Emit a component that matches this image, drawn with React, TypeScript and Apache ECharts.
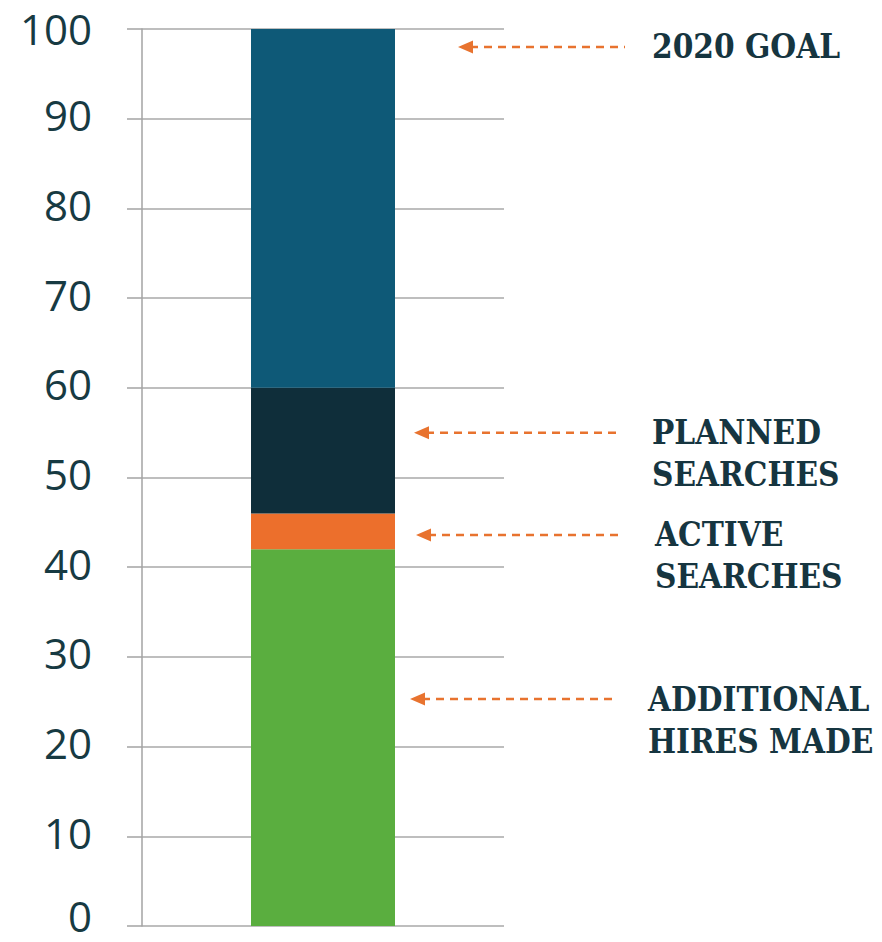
import React, { useEffect, useRef } from "react";
import * as echarts from "echarts";

const categories = ["Hires"];
const seriesNames = ["Additional hires made", "Active searches", "Planned searches", "2020 goal remainder"];
const seriesValues = [[42], [4], [14], [40]];
const seriesColors = ["#5aae3f", "#ec6f2c", "#0f2e3a", "#0e5977"];
const yTicks = [0, 100, 10];

const annotationLabels = ["2020 GOAL", "PLANNED\nSEARCHES", "ACTIVE\nSEARCHES", "ADDITIONAL\nHIRES MADE"];
const annotationValues = [98, 55, 43.6, 25.3];
const arrowTipX = [458, 414, 416, 410];
const arrowEndX = [625, 620, 620, 617];
const labelX = [652, 652, 655, 648];

export default function App() {
  const ref = useRef<HTMLDivElement>(null);
  useEffect(() => {
    document.body.style.margin = "0";
    const chart = echarts.init(ref.current!, null, { renderer: "svg" });
    const labelStyle = { fontSize: 42, fontFamily: "Open Sans", color: "#173a42" };
    chart.setOption({
      animation: false,
      backgroundColor: "#ffffff",
      grid: { left: 142, right: 378, top: 29, bottom: 16, containLabel: false, outerBoundsMode: "none" },
      xAxis: {
        type: "category",
        data: categories,
        axisLine: { show: false },
        axisTick: { show: false },
        axisLabel: { show: false },
      },
      yAxis: {
        type: "value",
        min: yTicks[0],
        max: yTicks[1],
        interval: yTicks[2],
        axisLine: { show: true, lineStyle: { color: "#a3a3a3", width: 1.5 } },
        axisTick: { show: true, inside: false, length: 15, lineStyle: { color: "#a3a3a3", width: 1.5 } },
        splitLine: { show: true, lineStyle: { color: "#a8a8a8", width: 1.5 } },
        axisLabel: {
          margin: 50,
          verticalAlign: "bottom",
          formatter: (v: number) =>
            v === yTicks[0] ? `{z|${v}}` : v === yTicks[1] ? `{t|${v}}` : `{n|${v}}`,
          rich: {
            n: { ...labelStyle, lineHeight: 8 },
            z: { ...labelStyle, lineHeight: 22 },
            t: { ...labelStyle, lineHeight: 1 },
          },
        },
      },
      series: seriesNames.map((name, i) => ({
        name,
        type: "bar",
        stack: "total",
        barWidth: 144,
        data: seriesValues[i],
        itemStyle: { color: seriesColors[i] },
      })),
    });

    const graphics: any[] = [];
    annotationLabels.forEach((label, i) => {
      const y = chart.convertToPixel({ yAxisIndex: 0 }, annotationValues[i]) as number;
      graphics.push({
        type: "line",
        shape: { x1: arrowTipX[i] + 12, y1: y, x2: arrowEndX[i], y2: y },
        style: { stroke: "#e8732f", lineWidth: 2.5, lineDash: [8, 6] },
      });
      graphics.push({
        type: "polygon",
        shape: { points: [[arrowTipX[i], y], [arrowTipX[i] + 15, y - 6.5], [arrowTipX[i] + 15, y + 6.5]] },
        style: { fill: "#e8732f" },
      });
      graphics.push({
        type: "text",
        x: labelX[i],
        y: y - 21,
        style: {
          text: label,
          fontFamily: "DejaVu Serif Condensed, DejaVu Serif",
          fontWeight: "bold",
          fontSize: 33,
          lineHeight: 42,
          fill: "#163540",
          verticalAlign: "top",
          align: "left",
        },
      });
    });
    chart.setOption({ graphic: graphics });
    return () => chart.dispose();
  }, []);
  return <div ref={ref} style={{ width: 882, height: 942 }} />;
}
